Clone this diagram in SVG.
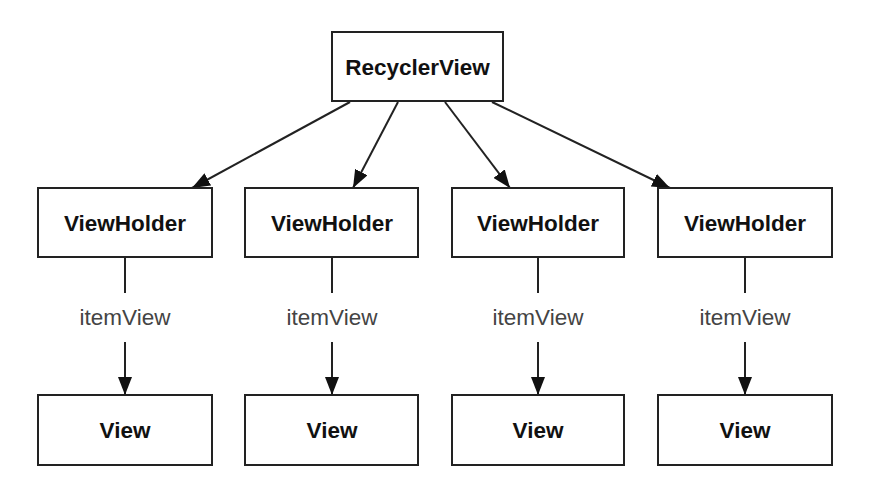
<svg xmlns="http://www.w3.org/2000/svg" width="878" height="489" viewBox="0 0 878 489">
<defs>
<marker id="ah" viewBox="0 0 18 14" refX="18" refY="7" markerWidth="18" markerHeight="14" markerUnits="userSpaceOnUse" orient="auto">
<path d="M0,0 L18,7 L0,14 Z" fill="#111"/>
</marker>
<style>
.box{fill:#fff;stroke:#222;stroke-width:2}
.t{font-family:"Liberation Sans",Arial,sans-serif;font-weight:bold;font-size:22.5px;fill:#111;text-anchor:middle}
.lbl{font-family:"Liberation Sans",Arial,sans-serif;font-size:22.5px;fill:#444;text-anchor:middle}
.c{stroke:#222;stroke-width:2;fill:none}
</style>
</defs>
<rect width="878" height="489" fill="#fff"/>
<g id="connectors">
<line class="c" x1="350" y1="102" x2="192" y2="188" marker-end="url(#ah)"/>
<line class="c" x1="398" y1="102" x2="353" y2="188" marker-end="url(#ah)"/>
<line class="c" x1="445" y1="102" x2="510" y2="188" marker-end="url(#ah)"/>
<line class="c" x1="492" y1="102" x2="670" y2="188" marker-end="url(#ah)"/>
<line class="c" x1="125" y1="257" x2="125" y2="293"/>
<line class="c" x1="125" y1="342" x2="125" y2="395" marker-end="url(#ah)"/>
<text class="lbl" x="125" y="325">itemView</text>
<line class="c" x1="332" y1="257" x2="332" y2="293"/>
<line class="c" x1="332" y1="342" x2="332" y2="395" marker-end="url(#ah)"/>
<text class="lbl" x="332" y="325">itemView</text>
<line class="c" x1="538" y1="257" x2="538" y2="293"/>
<line class="c" x1="538" y1="342" x2="538" y2="395" marker-end="url(#ah)"/>
<text class="lbl" x="538" y="325">itemView</text>
<line class="c" x1="745" y1="257" x2="745" y2="293"/>
<line class="c" x1="745" y1="342" x2="745" y2="395" marker-end="url(#ah)"/>
<text class="lbl" x="745" y="325">itemView</text>
</g>
<g id="recyclerview"><rect class="box" x="332" y="32" width="171" height="69"/><text class="t" x="417.5" y="75">RecyclerView</text></g>
<g id="vh1"><rect class="box" x="38" y="188" width="174" height="69"/><text class="t" x="125" y="231">ViewHolder</text></g>
<g id="vh2"><rect class="box" x="245" y="188" width="173" height="69"/><text class="t" x="332" y="231">ViewHolder</text></g>
<g id="vh3"><rect class="box" x="452" y="188" width="172" height="69"/><text class="t" x="538" y="231">ViewHolder</text></g>
<g id="vh4"><rect class="box" x="658" y="188" width="174" height="69"/><text class="t" x="745" y="231">ViewHolder</text></g>
<g id="view1"><rect class="box" x="38" y="395" width="174" height="70"/><text class="t" x="125" y="438">View</text></g>
<g id="view2"><rect class="box" x="245" y="395" width="173" height="70"/><text class="t" x="332" y="438">View</text></g>
<g id="view3"><rect class="box" x="452" y="395" width="172" height="70"/><text class="t" x="538" y="438">View</text></g>
<g id="view4"><rect class="box" x="658" y="395" width="174" height="70"/><text class="t" x="745" y="438">View</text></g>
</svg>
